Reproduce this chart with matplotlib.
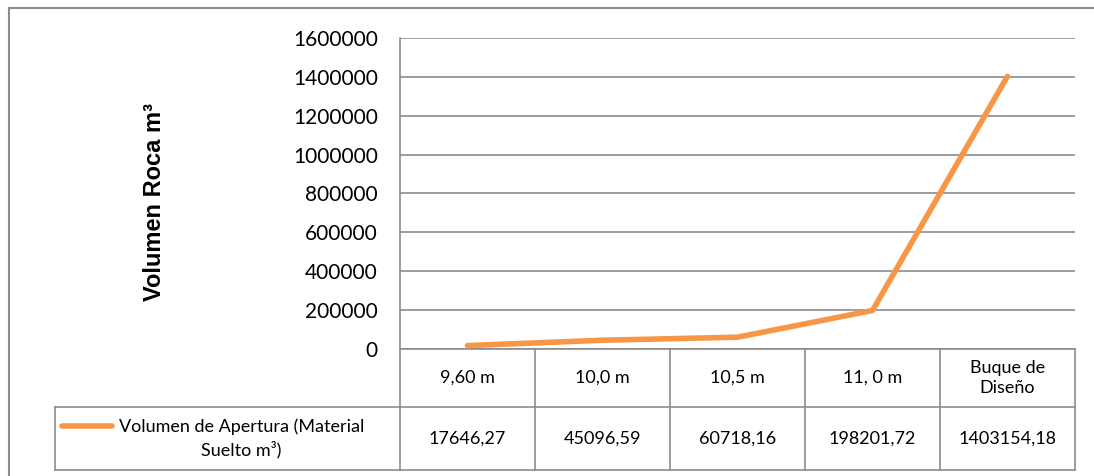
import matplotlib
matplotlib.use('Agg')
import matplotlib.pyplot as plt
from matplotlib.transforms import blended_transform_factory
from matplotlib.patches import Rectangle
from matplotlib.lines import Line2D

plt.rcParams['font.family'] = ['Lato', 'DejaVu Sans']

# datos
categorias = ['9,60 m', '10,0 m', '10,5 m', '11, 0 m', 'Buque de\nDiseño']
volumen = [17646.27, 45096.59, 60718.16, 198201.72, 1403154.18]
serie = 'Volumen de Apertura (Material\nSuelto m³)'
y_ticks = [0, 200000, 400000, 600000, 800000, 1000000, 1200000, 1400000, 1600000]

W, H = 1094, 476
fig = plt.figure(figsize=(W / 100, H / 100), dpi=100)

# borde exterior del gráfico
fig.patches.append(Rectangle((9 / W, -0.1), 1.2, 1 - 8 / H + 0.1, transform=fig.transFigure,
                             fill=False, edgecolor='#8c8c8c', lw=1.5))

x0, x1, ytop, ybot = 400, 1075, 38, 349
ax = fig.add_axes([x0 / W, 1 - ybot / H, (x1 - x0) / W, (ybot - ytop) / H])

gris = '#8c8c8c'
naranja = '#f79646'
xs = list(range(len(categorias)))
ax.plot(xs, volumen, color=naranja, lw=4, solid_capstyle='round', solid_joinstyle='round', zorder=3)

ax.set_xlim(-0.5, len(categorias) - 0.5)
ax.set_ylim(0, 1600000)
ax.set_yticks(y_ticks)
ax.set_yticklabels([str(v) for v in y_ticks], fontsize=15)
ax.tick_params(axis='y', length=0, pad=16)
ax.set_xticks([])
ax.grid(axis='y', color=gris, lw=1.2)
ax.set_axisbelow(True)
for s in ['top', 'right']:
    ax.spines[s].set_visible(False)
ax.spines['left'].set_color(gris)
ax.spines['bottom'].set_color(gris)
ax.spines['left'].set_linewidth(1.2)
ax.spines['bottom'].set_linewidth(1.2)

ax.set_ylabel('Volumen Roca m³', fontsize=17, fontweight='bold',
              family=['Liberation Sans', 'DejaVu Sans'])
ax.yaxis.set_label_coords((166 - x0) / (x1 - x0), (ybot - 202) / (ybot - ytop))

# tabla de datos bajo el eje
tr = blended_transform_factory(ax.transData, ax.transAxes)
alto = ybot - ytop
f1 = -(407 - ybot) / alto
f2 = -(470 - ybot) / alto
izq = -0.5 - (x0 - 55) / ((x1 - x0) / len(categorias))
xr = len(categorias) - 0.5

def linea(xa, xb, ya, yb):
    ax.add_line(Line2D([xa, xb], [ya, yb], transform=tr, color=gris, lw=1.2, clip_on=False))

linea(-0.5, -0.5, 0, f2)
for i in range(len(categorias)):
    linea(i + 0.5, i + 0.5, 0, f2)
linea(-0.5, xr, f1, f1)
linea(izq, xr, f2, f2)
linea(izq, -0.5, f1, f1)
linea(izq, izq, f1, f2)

for i, (c, v) in enumerate(zip(categorias, volumen)):
    ax.text(i, f1 / 2, c, transform=tr, ha='center', va='center', fontsize=13,
            linespacing=1.35, clip_on=False)
    txt = f'{v:.2f}'.replace('.', ',')
    ax.text(i, (f1 + f2) / 2, txt, transform=tr, ha='center', va='center', fontsize=13, clip_on=False)

# leyenda dentro de la tabla
ax.add_line(Line2D([izq + 0.05, izq + 0.42], [f1 - 0.06, f1 - 0.06], transform=tr,
                   color=naranja, lw=4, solid_capstyle='round', clip_on=False))
ax.text(izq + 1.38, (f1 + f2) / 2, serie, transform=tr, ha='center', va='center',
        multialignment='center', fontsize=13, linespacing=1.35, clip_on=False)

fig.savefig('out.png', dpi=100)
